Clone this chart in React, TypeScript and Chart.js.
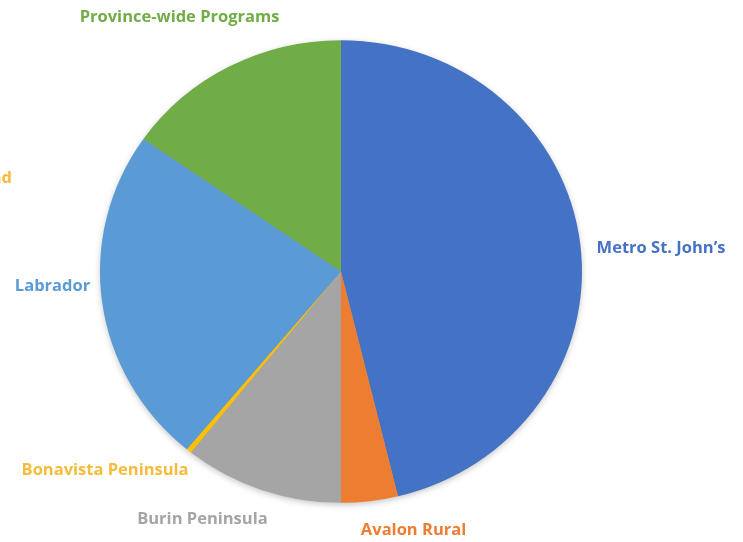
import { useEffect, useRef } from "react";
import { Chart, registerables } from "chart.js";

Chart.register(...registerables);

const categories = [
  "Metro St. John’s",
  "Avalon Rural",
  "Burin Peninsula",
  "Bonavista Peninsula",
  "Central Newfoundland",
  "Labrador",
  "Province-wide Programs",
];
const shares = [46.2, 3.8, 10.7, 0.35, 0, 23.65, 15.3];
const sliceColors = ["#4472C4", "#ED7D31", "#A5A5A5", "#FFC000", "#FFC000", "#5B9BD5", "#70AD47"];
const labelColors = ["#4472C4", "#ED7D31", "#A5A5A5", "#F6BB3A", "#F6BB3A", "#5B9BD5", "#70AD47"];

// label placement relative to pie centre, in units of radius
const labelLayout: { dx: number; dy: number; align: CanvasTextAlign }[] = [
  { dx: 1.328, dy: -0.097, align: "center" },
  { dx: 0.301, dy: 1.073, align: "center" },
  { dx: -0.575, dy: 1.027, align: "center" },
  { dx: -0.979, dy: 0.824, align: "center" },
  { dx: -1.365, dy: -0.388, align: "right" },
  { dx: -1.197, dy: 0.06, align: "center" },
  { dx: -0.67, dy: -1.056, align: "center" },
];

const SQUASH = 0.96;

const ellipsePlugin = {
  id: "ellipse",
  beforeDatasetsDraw(chart: any) {
    const meta = chart.getDatasetMeta(0);
    const arc = meta.data[0];
    if (!arc) return;
    const { x, y, outerRadius } = arc.getProps(["x", "y", "outerRadius"], true);
    const ctx = chart.ctx;
    ctx.save();
    ctx.translate(x, y);
    ctx.scale(1, SQUASH);
    ctx.translate(-x, -y);
    ctx.save();
    ctx.shadowColor = "rgba(0,0,0,0.28)";
    ctx.shadowBlur = 7;
    ctx.shadowOffsetY = 2;
    ctx.beginPath();
    ctx.arc(x, y, outerRadius - 1, 0, Math.PI * 2);
    ctx.fillStyle = "#999";
    ctx.fill();
    ctx.restore();
  },
  afterDatasetsDraw(chart: any) {
    chart.ctx.restore();
  },
};

const labelPlugin = {
  id: "sliceLabels",
  afterDraw(chart: any) {
    const meta = chart.getDatasetMeta(0);
    const arc = meta.data[0];
    if (!arc) return;
    const { x, y, outerRadius } = arc.getProps(["x", "y", "outerRadius"], true);
    const ctx = chart.ctx;
    ctx.save();
    ctx.font = "bold 16.5px 'Open Sans'";
    ctx.textBaseline = "middle";
    categories.forEach((label, i) => {
      const l = labelLayout[i];
      ctx.fillStyle = labelColors[i];
      ctx.textAlign = l.align;
      ctx.fillText(label, x + l.dx * outerRadius, y + l.dy * outerRadius);
    });
    ctx.restore();
  },
};

export default function App() {
  const ref = useRef<HTMLCanvasElement | null>(null);
  useEffect(() => {
    document.body.style.margin = "0";
    if (!ref.current) return;
    const chart = new Chart(ref.current, {
      type: "pie",
      data: {
        labels: categories,
        datasets: [
          {
            data: shares,
            backgroundColor: sliceColors,
            borderWidth: 0,
          },
        ],
      },
      options: {
        responsive: false,
        animation: false,
        layout: { padding: { left: 100, right: 161, top: 30.5, bottom: 29.5 } },
        plugins: { legend: { display: false }, tooltip: { enabled: false } },
      },
      plugins: [ellipsePlugin, labelPlugin],
    });
    return () => chart.destroy();
  }, []);
  return (
    <div style={{ width: 743, height: 542, background: "#fff" }}>
      <canvas ref={ref} width={743} height={542} style={{ display: "block" }} />
    </div>
  );
}
